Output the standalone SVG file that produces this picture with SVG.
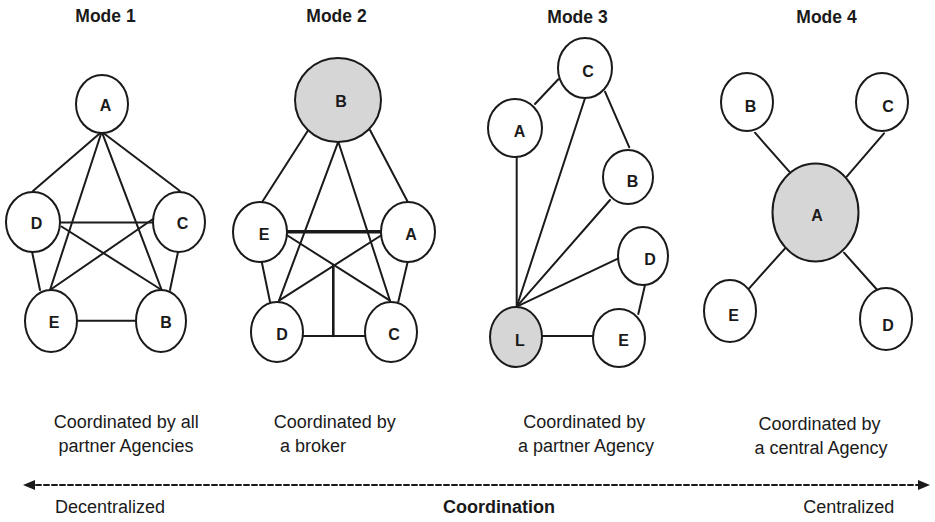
<svg xmlns="http://www.w3.org/2000/svg" width="935" height="522" viewBox="0 0 935 522">
  <style>
    .node ellipse { fill: #ffffff; stroke: #1a1a1a; stroke-width: 2; }
    .node.hub ellipse { fill: #d6d6d6; }
    .node text { font-family: "Liberation Sans", Arial, sans-serif; font-weight: bold; font-size: 16px; fill: #1a1a1a; text-anchor: middle; }
    .edges line { stroke: #1a1a1a; stroke-width: 2; stroke-linecap: round; }
    .edges line.thick { stroke-width: 3.5; }
    .edges line.mid { stroke-width: 2.6; }
    .title { font-family: "Liberation Sans", Arial, sans-serif; font-weight: bold; font-size: 17.5px; fill: #1a1a1a; text-anchor: middle; }
    .caption { font-family: "Liberation Sans", Arial, sans-serif; font-size: 18px; fill: #1a1a1a; }
    .axis { stroke: #1a1a1a; stroke-width: 2; stroke-dasharray: 5 3; fill: none; }
  </style>
  <defs>
    <marker id="arrowhead" viewBox="0 0 12 10" refX="7" refY="5" markerWidth="12" markerHeight="10" markerUnits="userSpaceOnUse" orient="auto-start-reverse">
      <path d="M0,0 L12,5 L0,10 Z" fill="#1a1a1a"/>
    </marker>
  </defs>
  <rect width="935" height="522" fill="#ffffff"/>

  <!-- column headings -->
  <text class="title" x="105.5" y="21.5">Mode 1</text>
  <text class="title" x="336.5" y="21.5">Mode 2</text>
  <text class="title" x="577.5" y="22.5">Mode 3</text>
  <text class="title" x="826.5" y="22.5">Mode 4</text>

  <!-- connectors -->
  <g id="connectors" class="edges">
    <!-- Mode 1: fully connected -->
    <line x1="101.7" y1="131.7" x2="33" y2="191"/>
    <line x1="101.7" y1="131.7" x2="180" y2="191"/>
    <line x1="101.7" y1="131.7" x2="50" y2="290"/>
    <line x1="101.7" y1="131.7" x2="161.7" y2="290"/>
    <line x1="60" y1="222.5" x2="153" y2="222.5"/>
    <line x1="61.5" y1="226.5" x2="161.7" y2="290"/>
    <line x1="50" y1="290" x2="153" y2="219"/>
    <line x1="32" y1="251.5" x2="40" y2="290"/>
    <line x1="178" y1="252" x2="170" y2="290"/>
    <line x1="76.5" y1="320.7" x2="136" y2="320.7"/>

    <!-- Mode 2: broker -->
    <line x1="308.3" y1="130" x2="262.3" y2="201.7"/>
    <line x1="370" y1="130" x2="407.7" y2="201.7"/>
    <line x1="338.3" y1="141.7" x2="279" y2="300.7"/>
    <line x1="338.3" y1="141.7" x2="390" y2="300.7"/>
    <line class="thick" x1="286.7" y1="231.7" x2="381.7" y2="231.7"/>
    <line x1="286.7" y1="235" x2="390" y2="300.7"/>
    <line x1="381.7" y1="235" x2="279" y2="300.7"/>
    <line class="mid" x1="333.3" y1="265" x2="333.3" y2="336"/>
    <line x1="303" y1="336" x2="365" y2="336"/>
    <line x1="261.7" y1="261.7" x2="270" y2="301.7"/>
    <line x1="407.7" y1="261.7" x2="398.3" y2="301.7"/>

    <!-- Mode 3: lead agency -->
    <line x1="535" y1="104" x2="558.3" y2="79.3"/>
    <line x1="605" y1="91.7" x2="629.3" y2="147.3"/>
    <line x1="516.7" y1="156.7" x2="516.7" y2="306.7"/>
    <line x1="516.7" y1="306.7" x2="585" y2="98.3"/>
    <line x1="516.7" y1="306.7" x2="610" y2="200"/>
    <line x1="516.7" y1="306.7" x2="620" y2="257.7"/>
    <line x1="645" y1="285" x2="638.3" y2="314"/>
    <line x1="541.7" y1="336" x2="593.3" y2="336"/>

    <!-- Mode 4: central agency -->
    <line x1="755" y1="132.7" x2="789.3" y2="171.7"/>
    <line x1="884" y1="133.3" x2="846.7" y2="176.7"/>
    <line x1="748.3" y1="289.3" x2="786" y2="247.3"/>
    <line x1="877.3" y1="290" x2="844" y2="252.7"/>

    <!-- coordination axis -->
    <line class="axis" x1="28" y1="485" x2="925" y2="485" marker-start="url(#arrowhead)" marker-end="url(#arrowhead)"/>
  </g>

  <!-- Mode 1 nodes -->
  <g id="m1-A" class="node"><ellipse cx="102" cy="104" rx="26" ry="29"/><text x="105.5" y="110.7">A</text></g>
  <g id="m1-D" class="node"><ellipse cx="33" cy="222" rx="27" ry="30"/><text x="36.5" y="229">D</text></g>
  <g id="m1-C" class="node"><ellipse cx="179" cy="222" rx="26" ry="30"/><text x="182.5" y="229">C</text></g>
  <g id="m1-E" class="node"><ellipse cx="51" cy="321" rx="26" ry="31"/><text x="54" y="328.3">E</text></g>
  <g id="m1-B" class="node"><ellipse cx="161" cy="321" rx="25" ry="31"/><text x="166" y="328.3">B</text></g>

  <!-- Mode 2 nodes -->
  <g id="m2-B" class="node hub"><ellipse cx="338" cy="100" rx="43" ry="42"/><text x="341" y="107">B</text></g>
  <g id="m2-E" class="node"><ellipse cx="260" cy="232" rx="27" ry="30"/><text x="264" y="240">E</text></g>
  <g id="m2-A" class="node"><ellipse cx="408" cy="232" rx="27" ry="30"/><text x="411" y="240">A</text></g>
  <g id="m2-D" class="node"><ellipse cx="277" cy="332" rx="26" ry="30"/><text x="282" y="340">D</text></g>
  <g id="m2-C" class="node"><ellipse cx="391" cy="332" rx="26" ry="30"/><text x="394" y="340">C</text></g>

  <!-- Mode 3 nodes -->
  <g id="m3-C" class="node"><ellipse cx="585" cy="68" rx="27" ry="30"/><text x="588" y="76.7">C</text></g>
  <g id="m3-A" class="node"><ellipse cx="515" cy="128" rx="27" ry="29"/><text x="519.5" y="137.3">A</text></g>
  <g id="m3-B" class="node"><ellipse cx="628" cy="177" rx="25" ry="27"/><text x="632.5" y="186.7">B</text></g>
  <g id="m3-D" class="node"><ellipse cx="643" cy="256" rx="25" ry="29"/><text x="650" y="265">D</text></g>
  <g id="m3-E" class="node"><ellipse cx="619" cy="338" rx="26" ry="29"/><text x="623.7" y="346">E</text></g>
  <g id="m3-L" class="node hub"><ellipse cx="516" cy="337" rx="26" ry="30"/><text x="520" y="346">L</text></g>

  <!-- Mode 4 nodes -->
  <g id="m4-B" class="node"><ellipse cx="747" cy="102" rx="26" ry="29"/><text x="750.5" y="111.7">B</text></g>
  <g id="m4-C" class="node"><ellipse cx="882" cy="102" rx="26" ry="29"/><text x="888" y="111.7">C</text></g>
  <g id="m4-A" class="node hub"><ellipse cx="815.5" cy="212.5" rx="43" ry="49"/><text x="817" y="220.7">A</text></g>
  <g id="m4-E" class="node"><ellipse cx="730" cy="311" rx="26" ry="31"/><text x="733.5" y="320.7">E</text></g>
  <g id="m4-D" class="node"><ellipse cx="886" cy="319" rx="26" ry="31"/><text x="888" y="330.7">D</text></g>

  <!-- captions -->
  <text class="caption" x="126.3" y="428" text-anchor="middle">Coordinated by all</text>
  <text class="caption" x="126" y="452" text-anchor="middle">partner Agencies</text>
  <text class="caption" x="334.7" y="428" text-anchor="middle">Coordinated by</text>
  <text class="caption" x="280" y="452">a broker</text>
  <text class="caption" x="584.2" y="428" text-anchor="middle">Coordinated by</text>
  <text class="caption" x="586" y="452" text-anchor="middle">a partner Agency</text>
  <text class="caption" x="819.5" y="430" text-anchor="middle">Coordinated by</text>
  <text class="caption" x="821" y="454" text-anchor="middle">a central Agency</text>

  <!-- axis labels -->
  <text class="caption" x="55" y="513">Decentralized</text>
  <text class="caption" x="499" y="513" text-anchor="middle" font-weight="bold">Coordination</text>
  <text class="caption" x="894.3" y="513" text-anchor="end">Centralized</text>
</svg>
